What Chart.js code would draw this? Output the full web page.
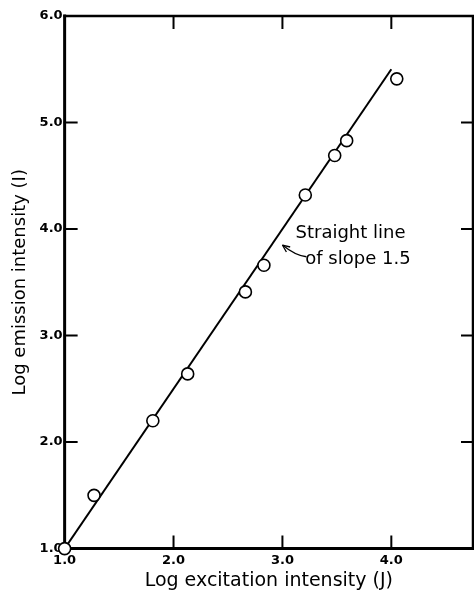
<!DOCTYPE html>
<html>
<head>
<meta charset="utf-8">
<script src="https://cdn.jsdelivr.net/npm/chart.js@4"></script>
<style>
  html, body { margin: 0; padding: 0; background: #fff; overflow: hidden; }
  #wrap { width: 474px; height: 592px; position: relative; }
</style>
</head>
<body>
<div id="wrap"><canvas id="slopeChart"></canvas></div>
<script>
// data (log J, log I)
const logExcitation = [1.0, 1.27, 1.81, 2.13, 2.66, 2.83, 3.21, 3.48, 3.59, 4.05];
const logEmission   = [1.0, 1.50, 2.20, 2.64, 3.41, 3.66, 4.32, 4.69, 4.83, 5.41];
// fitted straight line of slope 1.5
const fitX = [1.0, 4.0];
const fitY = [1.0, 5.5];
const xTicks = [1, 2, 3, 4];
const yTicks = [1, 2, 3, 4, 5, 6];

const FONT = '"DejaVu Sans", "Liberation Sans", sans-serif';

// frame, inward tick marks and the annotation
const framePlugin = {
    id: 'frame',
    beforeDatasetsDraw(chart) {
        const { ctx, chartArea: a, scales } = chart;
        ctx.save();
        ctx.strokeStyle = '#000';
        ctx.lineCap = 'square';
        // left + bottom heavier
        ctx.lineWidth = 3;
        ctx.beginPath();
        ctx.moveTo(a.left, a.top); ctx.lineTo(a.left, a.bottom); ctx.lineTo(a.right, a.bottom);
        ctx.stroke();
        ctx.lineWidth = 2.5;
        ctx.beginPath();
        ctx.moveTo(a.left, a.top); ctx.lineTo(a.right, a.top); ctx.lineTo(a.right, a.bottom);
        ctx.stroke();

        ctx.lineWidth = 2;
        ctx.beginPath();
        xTicks.slice(1).forEach(v => {
            const px = scales.x.getPixelForValue(v);
            ctx.moveTo(px, a.bottom); ctx.lineTo(px, a.bottom - 12);
            ctx.moveTo(px, a.top); ctx.lineTo(px, a.top + 12);
        });
        yTicks.slice(1, -1).forEach(v => {
            const py = scales.y.getPixelForValue(v);
            ctx.moveTo(a.left, py); ctx.lineTo(a.left + 12, py);
            ctx.moveTo(a.right, py); ctx.lineTo(a.right - 11, py);
        });
        ctx.stroke();
        ctx.restore();
    },
    afterDatasetsDraw(chart) {
        const { ctx, scales } = chart;
        const X = v => scales.x.getPixelForValue(v);
        const Y = v => scales.y.getPixelForValue(v);
        ctx.save();
        ctx.fillStyle = '#000';
        ctx.font = '18px ' + FONT;
        ctx.textBaseline = 'alphabetic';
        ctx.fillText('Straight line', X(3.12), Y(3.92));
        ctx.fillText('of slope 1.5', X(3.21), Y(3.67));

        // curved arrow pointing at the line
        const sx = X(3.22), sy = Y(3.74);
        const tx = X(3.0), ty = Y(3.85);
        ctx.strokeStyle = '#000';
        ctx.lineWidth = 1.3;
        ctx.beginPath();
        ctx.moveTo(sx, sy);
        ctx.quadraticCurveTo(X(3.12), Y(3.75), tx, ty);
        ctx.stroke();
        const ang = Math.atan2(ty - Y(3.78), tx - X(3.09));
        ctx.beginPath();
        ctx.moveTo(tx, ty);
        ctx.lineTo(tx - 8 * Math.cos(ang - 0.4), ty - 8 * Math.sin(ang - 0.4));
        ctx.moveTo(tx, ty);
        ctx.lineTo(tx - 8 * Math.cos(ang + 0.4), ty - 8 * Math.sin(ang + 0.4));
        ctx.stroke();
        ctx.restore();
    }
};

// drop the label overhang padding Chart.js reserves at the axis ends
const noEdgePad = s => {
    s.paddingLeft = 0; s.paddingRight = 0;
    s.paddingTop = 0; s.paddingBottom = 0;
};

const ctx = document.getElementById('slopeChart').getContext('2d');
new Chart(ctx, {
    type: 'scatter',
    data: {
        datasets: [
            {
                type: 'line',
                data: fitX.map((x, i) => ({ x, y: fitY[i] })),
                borderColor: '#000',
                borderWidth: 2,
                pointRadius: 0,
                fill: false,
                order: 2
            },
            {
                data: logExcitation.map((x, i) => ({ x, y: logEmission[i] })),
                pointRadius: 6,
                pointBackgroundColor: '#fff',
                pointBorderColor: '#000',
                pointBorderWidth: 1.6,
                clip: false,
                order: 1
            }
        ]
    },
    options: {
        responsive: true,
        maintainAspectRatio: false,
        animation: false,
        layout: { autoPadding: false, padding: { top: 16, right: 1, left: 10, bottom: 0 } },
        plugins: { legend: { display: false }, tooltip: { enabled: false } },
        scales: {
            x: {
                type: 'linear',
                min: 1, max: 4.75,
                afterBuildTicks: s => { s.ticks = xTicks.map(v => ({ value: v })); },
                afterFit: noEdgePad,
                grid: { display: false, drawTicks: false },
                border: { display: false },
                ticks: {
                    color: '#000', padding: 4,
                    font: { family: FONT, size: 13, weight: 'bold' },
                    callback: v => v.toFixed(1)
                },
                title: {
                    display: true, text: 'Log excitation intensity (J)',
                    color: '#000', font: { family: FONT, size: 19 },
                    padding: { top: -3, bottom: 0 }
                }
            },
            y: {
                type: 'linear',
                min: 1, max: 6,
                afterBuildTicks: s => { s.ticks = yTicks.map(v => ({ value: v })); },
                afterFit: noEdgePad,
                grid: { display: false, drawTicks: false },
                border: { display: false },
                ticks: {
                    color: '#000', padding: 2,
                    font: { family: FONT, size: 13, weight: 'bold' },
                    callback: v => v.toFixed(1)
                },
                title: {
                    display: true, text: 'Log emission intensity (I)',
                    color: '#000', font: { family: FONT, size: 18 },
                    padding: { top: 0, bottom: 6 }
                }
            }
        }
    },
    plugins: [framePlugin]
});
</script>
</body>
</html>
